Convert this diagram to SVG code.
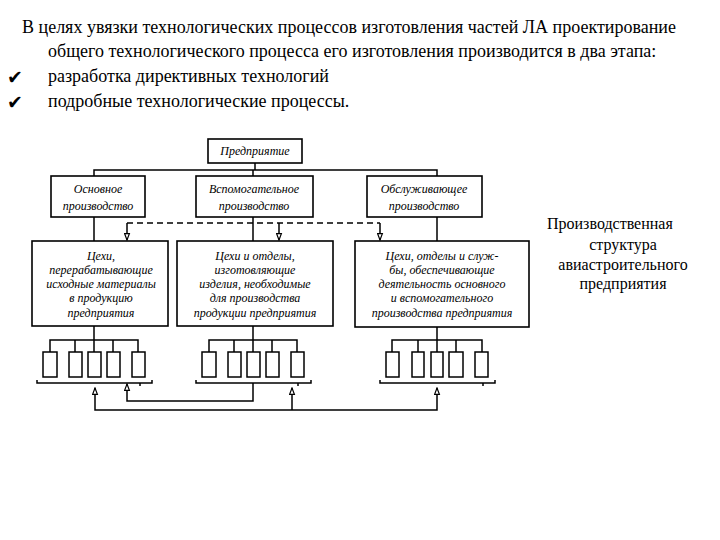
<svg xmlns="http://www.w3.org/2000/svg" width="720" height="540" viewBox="0 0 720 540">
<style>
.t{font-family:"Liberation Serif","Times New Roman",serif;font-size:18px;fill:#000}
.ck{font-family:"DejaVu Sans",sans-serif;font-size:19px;fill:#000}
.cap{font-family:"Liberation Serif","Times New Roman",serif;font-size:16px;fill:#000}
.b{fill:#fff;stroke:#000;stroke-width:1.6}
.s{fill:#fff;stroke:#000;stroke-width:1.5}
.n{font-family:"Liberation Serif","Times New Roman",serif;font-style:italic;font-size:12px;fill:#000;text-anchor:middle}
.l{fill:none;stroke:#000;stroke-width:1.5}
.d{fill:none;stroke:#000;stroke-width:1.5;stroke-dasharray:6 4}
</style>
<defs>
<marker id="ah" viewBox="0 0 10 8" refX="9" refY="4" markerWidth="8" markerHeight="7" markerUnits="userSpaceOnUse" orient="auto-start-reverse">
<path d="M1,1 L9,4 L1,7 Z" fill="#fff" stroke="#000" stroke-width="1.5"/>
</marker>
</defs>
<rect width="720" height="540" fill="#fff"/>
<g id="intro">
<text class="t" x="22" y="33">В целях увязки технологических процессов изготовления частей ЛА проектирование</text>
<text class="t" x="48" y="57">общего технологического процесса его изготовления производится в два этапа:</text>
<text class="ck" x="7" y="84">✔</text>
<text class="t" x="48" y="82">разработка директивных технологий</text>
<text class="ck" x="7" y="109">✔</text>
<text class="t" x="48" y="107">подробные технологические процессы.</text>
</g>
<g id="caption">
<text class="cap" x="547" y="229">Производственная</text>
<text class="cap" x="623" y="250" text-anchor="middle">структура</text>
<text class="cap" x="623" y="270" text-anchor="middle">авиастроительного</text>
<text class="cap" x="623" y="289" text-anchor="middle">предприятия</text>
</g>
<g id="connectors">
<path class="l" d="M255,163 V170 M94,176 V170 H437 V176 M253,170 V176"/>
<path class="l" d="M94,217 V241 M253,217 V241 M437,217 V241"/>
<path class="d" d="M127,223 H380"/>
<path class="l" d="M127,223 V240" marker-end="url(#ah)"/>
<path class="l" d="M279,223 V240" marker-end="url(#ah)"/>
<path class="l" d="M380,223 V240" marker-end="url(#ah)"/>
<path class="l" d="M94,326 V340 M50,352 V340 H138 V352 M75,340 V352 M94,340 V352 M113,340 V352"/>
<path class="l" d="M253,326 V340 M209,352 V340 H297 V352 M234,340 V352 M253,340 V352 M272,340 V352"/>
<path class="l" d="M437,327 V340 M392,352 V340 H482 V352 M418,340 V352 M437,340 V352 M456,340 V352"/>
<path class="l" d="M37,380 V383 H152 V380 M140,383 V386"/>
<path class="l" d="M196,380 V383 H311 V380 M298,383 V386"/>
<path class="l" d="M380,380 V383 H495 V380 M483,383 V386"/>
<path class="l" d="M253,383 V401 H127 V384" marker-end="url(#ah)"/>
<path class="l" d="M95,388 V410 H437 V388" marker-start="url(#ah)" marker-end="url(#ah)"/>
<path class="l" d="M292,410 V388" marker-end="url(#ah)"/>
</g>
<g id="n-enterprise"><rect class="b" x="208" y="139" width="94" height="24"/><text class="n" x="255" y="155">Предприятие</text></g>
<g id="n-main"><rect class="b" x="51" y="176" width="94" height="41"/><text class="n" x="98" y="193">Основное</text><text class="n" x="98" y="210">производство</text></g>
<g id="n-aux"><rect class="b" x="196" y="176" width="117" height="41"/><text class="n" x="254" y="193">Вспомогательное</text><text class="n" x="254" y="210">производство</text></g>
<g id="n-serv"><rect class="b" x="367" y="176" width="115" height="41"/><text class="n" x="424" y="193">Обслуживающее</text><text class="n" x="424" y="210">производство</text></g>
<g id="n-shops1"><rect class="b" x="32" y="241" width="136" height="85"/>
<text class="n" x="101" y="260">Цехи,</text><text class="n" x="101" y="274">перерабатывающие</text><text class="n" x="101" y="288">исходные материалы</text><text class="n" x="101" y="302">в продукцию</text><text class="n" x="101" y="317">предприятия</text></g>
<g id="n-shops2"><rect class="b" x="177" y="241" width="156" height="85"/>
<text class="n" x="255" y="260">Цехи и отделы,</text><text class="n" x="255" y="274">изготовляющие</text><text class="n" x="255" y="288">изделия, необходимые</text><text class="n" x="255" y="302">для производства</text><text class="n" x="255" y="317">продукции предприятия</text></g>
<g id="n-shops3"><rect class="b" x="355" y="241" width="174" height="86"/>
<text class="n" x="442" y="260">Цехи, отделы и служ-</text><text class="n" x="442" y="274">бы, обеспечивающие</text><text class="n" x="442" y="288">деятельность основного</text><text class="n" x="442" y="302">и вспомогательного</text><text class="n" x="442" y="317">производства  предприятия</text></g>
<g id="n-units1"><rect class="s" x="43" y="352" width="14" height="25"/><rect class="s" x="69" y="352" width="13" height="25"/><rect class="s" x="88" y="352" width="13" height="25"/><rect class="s" x="107" y="352" width="13" height="25"/><rect class="s" x="132" y="352" width="13" height="25"/></g>
<g id="n-units2"><rect class="s" x="202" y="352" width="14" height="25"/><rect class="s" x="228" y="352" width="13" height="25"/><rect class="s" x="247" y="352" width="13" height="25"/><rect class="s" x="266" y="352" width="13" height="25"/><rect class="s" x="291" y="352" width="13" height="25"/></g>
<g id="n-units3"><rect class="s" x="386" y="352" width="13" height="25"/><rect class="s" x="412" y="352" width="12" height="25"/><rect class="s" x="431" y="352" width="12" height="25"/><rect class="s" x="449" y="352" width="14" height="25"/><rect class="s" x="475" y="352" width="13" height="25"/></g>
</svg>
